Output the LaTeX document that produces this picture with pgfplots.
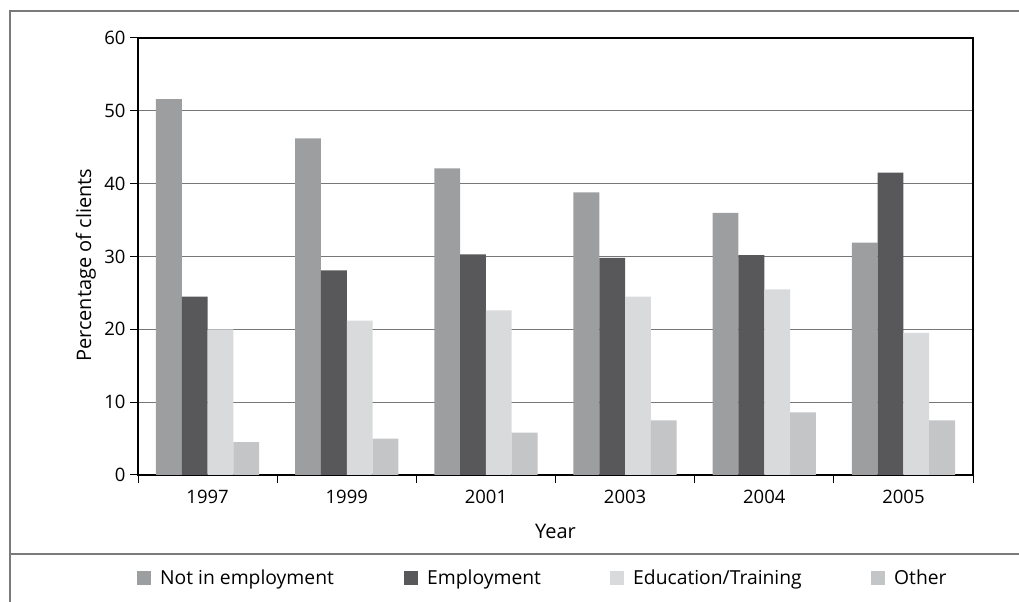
\documentclass[border=0pt]{standalone}
\usepackage{pgfplots}
\pgfplotsset{compat=1.18}
\usepackage{fontspec}
\setmainfont{Open Sans}
\definecolor{cNot}{HTML}{9D9EA0}
\definecolor{cEmp}{HTML}{58585A}
\definecolor{cEdu}{HTML}{D9DADC}
\definecolor{cOth}{HTML}{C4C5C7}
\definecolor{frame}{HTML}{7A7A7A}
\definecolor{gridc}{HTML}{777777}
\begin{document}
\begin{tikzpicture}[x=1bp,y=1bp]
\useasboundingbox (0,0) rectangle (1019,602);
\draw[frame, line width=1.4bp] (10,591) -- (1019,591);
\draw[frame, line width=1.4bp] (10,591.7) -- (10,0);
\draw[frame, line width=1.4bp] (10,48) -- (1019,48);
\begin{axis}[
  at={(138bp,127bp)}, anchor=south west,
  scale only axis, width=835bp, height=437bp,
  xmin=-0.5, xmax=5.5, ymin=0, ymax=60,
  ytick={0,10,...,60},
  xtick={-0.5,0.5,...,5.5}, xticklabels={},
  extra x ticks={0,1,2,3,4,5},
  extra x tick labels={1997,1999,2001,2003,2004,2005},
  extra x tick style={major tick length=0pt, grid=none},
  xtick pos=lower, ytick pos=left,
  tick align=outside, major tick length=8bp,
  tick style={black, line width=1bp},
  ymajorgrids, grid style={gridc, line width=1.3bp},
  axis line style={black, line width=1.6bp},
  /pgf/number format/assume math mode=true,
  tick label style={font=\fontsize{18.5bp}{21bp}\selectfont},
  yticklabel style={xshift=-1bp},
  xticklabel style={yshift=-12bp},
  ylabel={Percentage of clients}, xlabel={Year},
  every axis y label/.style={at={(axis description cs:-0.0623,0.48)}, rotate=90, anchor=center, font=\fontsize{20bp}{23bp}\selectfont},
  every axis x label/.style={at={(axis description cs:0.5,-0.130)}, anchor=center, font=\fontsize{20bp}{23bp}\selectfont},
  ybar=0pt, bar width=25.8bp,
  legend columns=4,
  legend style={at={(axis description cs:-0.0012,-0.2346)}, anchor=west,
    draw=none, fill=none, inner sep=0pt, column sep=0pt,
    nodes={inner sep=0pt, font=\fontsize{19.3bp}{22bp}\selectfont}},
  legend image code/.code={\fill[#1] (0bp,-7bp) rectangle (14bp,7bp);},
]
\addplot[fill=cNot, draw=none] coordinates {(0,51.6) (1,46.2) (2,42.1) (3,38.8) (4,36.0) (5,31.9)};
\addlegendentry{\hspace{9bp}\makebox[244bp][l]{Not in employment}}
\addplot[fill=cEmp, draw=none] coordinates {(0,24.5) (1,28.1) (2,30.3) (3,29.8) (4,30.2) (5,41.5)};
\addlegendentry{\hspace{9bp}\makebox[183bp][l]{Employment}}
\addplot[fill=cEdu, draw=none] coordinates {(0,20.0) (1,21.2) (2,22.6) (3,24.5) (4,25.5) (5,19.5)};
\addlegendentry{\hspace{9bp}\makebox[238bp][l]{Education/Training}}
\addplot[fill=cOth, draw=none] coordinates {(0,4.5) (1,5.0) (2,5.8) (3,7.5) (4,8.6) (5,7.5)};
\addlegendentry{\hspace{9bp}Other}
\end{axis}
\end{tikzpicture}
\end{document}
